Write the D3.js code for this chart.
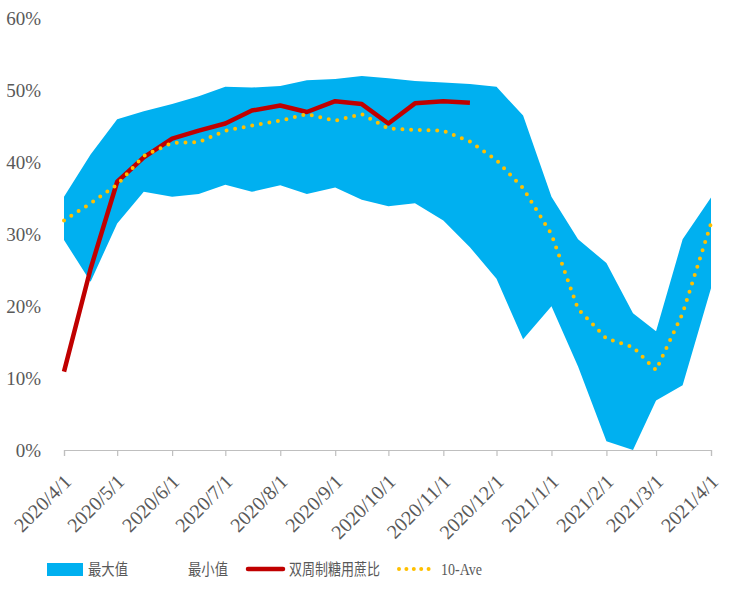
<!DOCTYPE html>
<html>
<head>
<meta charset="utf-8">
<script src="https://cdn.jsdelivr.net/npm/d3@7/dist/d3.min.js"></script>
<style>
  html, body { margin: 0; padding: 0; background: #fff; }
  svg { display: block; }
</style>
</head>
<body>
<script>
// ---- data (values in %) ----
const dates = ["2020/4/1","2020/4/16","2020/5/1","2020/5/16","2020/6/1","2020/6/16","2020/7/1","2020/7/16","2020/8/1","2020/8/16","2020/9/1","2020/9/16","2020/10/1","2020/10/16","2020/11/1","2020/11/16","2020/12/1","2020/12/16","2021/1/1","2021/1/16","2021/2/1","2021/2/16","2021/3/1","2021/3/16","2021/4/1"];
const maxVals = [35.2, 41.1, 46.0, 47.1, 48.1, 49.2, 50.5, 50.4, 50.6, 51.4, 51.6, 52.0, 51.7, 51.3, 51.1, 50.9, 50.5, 46.5, 35.2, 29.3, 26.0, 19.0, 16.5, 29.3, 35.1];
const minVals = [29.2, 23.4, 31.5, 35.9, 35.2, 35.6, 36.9, 35.9, 36.8, 35.6, 36.5, 34.8, 33.9, 34.3, 31.9, 28.2, 23.8, 15.4, 20.0, 11.6, 1.2, 0.0, 6.9, 9.0, 22.5];
const ratioVals = [10.9, 25.2, 37.3, 40.7, 43.3, 44.4, 45.4, 47.2, 47.9, 47.0, 48.5, 48.1, 45.4, 48.2, 48.5, 48.3, null, null, null, null, null, null, null, null, null];
const avgVals = [31.9, 34.3, 36.9, 40.9, 42.7, 42.8, 44.4, 45.1, 45.8, 46.7, 45.8, 46.7, 44.7, 44.5, 44.4, 42.9, 40.3, 36.4, 30.0, 19.6, 15.5, 14.3, 11.1, 19.0, 31.5];
const yTicks = [0, 10, 20, 30, 40, 50, 60];
const seriesNames = ["最大值", "最小值", "双周制糖用蔗比", "10-Ave"];

const W = 747, H = 602;
const parse = d3.timeParse("%Y/%-m/%-d");
const fmt = d3.timeFormat("%Y/%-m/%-d");
const rows = dates.map((d, i) => ({
  date: parse(d), max: maxVals[i], min: minVals[i], ratio: ratioVals[i], avg: avgVals[i]
}));

const x = d3.scaleTime()
  .domain([parse("2020/4/1"), parse("2021/4/1")])
  .range([64, 711]);
const y = d3.scaleLinear().domain([0, 60]).range([450, 18.5]);

const svg = d3.select("body").append("svg")
  .attr("width", W).attr("height", H);

const textColor = "#595959";
const serif = "'Liberation Serif','Times New Roman',serif";
const cjk = "'Noto Sans CJK SC',sans-serif";

// band
svg.append("path")
  .datum(rows)
  .attr("fill", "#00B0F0")
  .attr("d", d3.area().x(d => x(d.date)).y0(d => y(d.min)).y1(d => y(d.max)));

// x axis
const xAxis = d3.axisBottom(x)
  .ticks(d3.timeMonth.every(1))
  .tickSize(6)
  .tickFormat(fmt);
const gx = svg.append("g").attr("transform", "translate(0,450)").call(xAxis);
gx.select(".domain").attr("stroke", "#BFBFBF").attr("stroke-width", 1.2);
gx.selectAll(".tick line").attr("stroke", "#BFBFBF").attr("stroke-width", 1.2);
gx.selectAll(".tick text")
  .attr("font-family", serif)
  .attr("font-size", 20)
  .attr("fill", textColor)
  .attr("text-anchor", "end")
  .attr("x", 0).attr("y", 0).attr("dy", 0)
  .attr("transform", "translate(8,33) rotate(-45)");

// y axis
const yAxis = d3.axisLeft(y).tickValues(yTicks).tickSize(0).tickPadding(0).tickFormat(d => d + "%");
const gy = svg.append("g").attr("transform", "translate(41,0)").call(yAxis);
gy.select(".domain").remove();
gy.selectAll(".tick text")
  .attr("font-family", serif)
  .attr("font-size", 19)
  .attr("fill", textColor)
  .attr("dy", "0.34em");

// red line
svg.append("path")
  .datum(rows)
  .attr("fill", "none")
  .attr("stroke", "#C00000")
  .attr("stroke-width", 4.5)
  .attr("stroke-linejoin", "round")
  .attr("d", d3.line().defined(d => d.ratio != null).x(d => x(d.date)).y(d => y(d.ratio)));

// dotted avg line
svg.append("path")
  .datum(rows)
  .attr("fill", "none")
  .attr("stroke", "#FFC000")
  .attr("stroke-width", 4)
  .attr("stroke-linecap", "round")
  .attr("stroke-dasharray", "0 8.7")
  .attr("d", d3.line().x(d => x(d.date)).y(d => y(d.avg)));

// legend
const lg = svg.append("g");
const ly = 569;
function legText(xp, txt, family, size, len) {
  lg.append("text").attr("x", xp).attr("y", ly).attr("dy", "0.36em")
    .attr("font-family", family).attr("font-size", size).attr("fill", textColor)
    .attr("textLength", len).attr("lengthAdjust", "spacingAndGlyphs")
    .text(txt);
}
lg.append("rect").attr("x", 47).attr("y", 563).attr("width", 36).attr("height", 13).attr("fill", "#00B0F0");
legText(88, seriesNames[0], cjk, 16, 40);
legText(188, seriesNames[1], cjk, 16, 40);
lg.append("line").attr("x1", 248).attr("x2", 283).attr("y1", ly).attr("y2", ly)
  .attr("stroke", "#C00000").attr("stroke-width", 4.5).attr("stroke-linecap", "round");
legText(289, seriesNames[2], cjk, 16, 91);
lg.append("line").attr("x1", 399).attr("x2", 436).attr("y1", ly).attr("y2", ly)
  .attr("stroke", "#FFC000").attr("stroke-width", 4).attr("stroke-linecap", "round").attr("stroke-dasharray", "0 7.4");
legText(441, seriesNames[3], serif, 17, 41);
</script>
</body>
</html>
